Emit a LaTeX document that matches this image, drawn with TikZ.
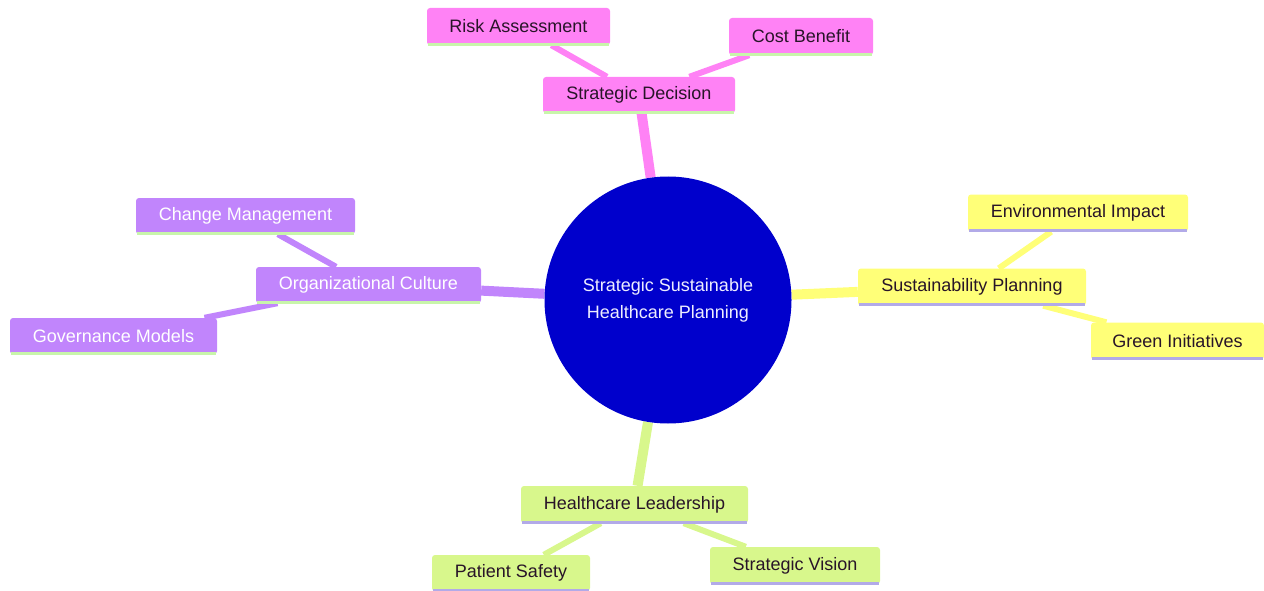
\documentclass[tikz,border=0pt]{standalone}
\usepackage{fontspec}
\setmainfont{Liberation Sans}
\usetikzlibrary{backgrounds}
\definecolor{pinkc}{RGB}{255,130,245}
\definecolor{yellowc}{RGB}{255,255,120}
\definecolor{purplec}{RGB}{193,133,252}
\definecolor{limec}{RGB}{216,247,140}
\definecolor{bluec}{RGB}{0,0,204}
\definecolor{stripegreen}{RGB}{200,245,170}
\definecolor{stripelav}{RGB}{178,170,232}
\definecolor{darktext}{RGB}{40,20,40}
\tikzset{
  box/.style={rounded corners=3pt, inner sep=0pt, font=\fontsize{18}{21}\selectfont, text=darktext},
  pinkbox/.style={box, fill=pinkc},
  yellowbox/.style={box, fill=yellowc},
  purplebox/.style={box, fill=purplec, text=white},
  limebox/.style={box, fill=limec},
  mainedge/.style={line width=10pt},
  subedge/.style={line width=6pt},
  stripe/.style={line width=3pt},
}
\begin{document}
\begin{tikzpicture}[x=1pt,y=-1pt]
\useasboundingbox (0,0) rectangle (1264,591);
% center
\node[circle, fill=bluec, minimum size=247pt, inner sep=0pt, text=white!93!blue,
      font=\fontsize{18}{27}\selectfont, align=center] (c) at (668,300)
      {Strategic Sustainable\\Healthcare Planning};
% pink branch
\node[pinkbox, minimum width=192pt, minimum height=36pt] (sd) at (639,95) {Strategic Decision};
\node[pinkbox, minimum width=183pt, minimum height=37pt] (ra) at (518.5,26.5) {Risk Assessment};
\node[pinkbox, minimum width=144pt, minimum height=37pt] (cb) at (801,36.5) {Cost Benefit};
% yellow branch
\node[yellowbox, minimum width=228pt, minimum height=37pt] (sp) at (972,287) {Sustainability Planning};
\node[yellowbox, minimum width=220pt, minimum height=37pt] (ei) at (1078,213) {Environmental Impact};
\node[yellowbox, minimum width=173pt, minimum height=37pt] (gi) at (1177.5,341) {Green Initiatives};
% purple branch
\node[purplebox, minimum width=225pt, minimum height=36pt] (oc) at (368.5,285) {Organizational Culture};
\node[purplebox, minimum width=219pt, minimum height=36pt] (cm) at (245.5,216) {Change Management};
\node[purplebox, minimum width=207pt, minimum height=36pt] (gm) at (113.5,336) {Governance Models};
% lime branch
\node[limebox, minimum width=227pt, minimum height=37pt] (hl) at (634.5,504.5) {Healthcare Leadership};
\node[limebox, minimum width=158pt, minimum height=36pt] (ps) at (511,573) {Patient Safety};
\node[limebox, minimum width=170pt, minimum height=37pt] (sv) at (795,565.5) {Strategic Vision};
% bottom stripes
\foreach \n/\col in {sd/stripegreen, ra/stripegreen, cb/stripegreen,
                     oc/stripegreen, cm/stripegreen, gm/stripegreen,
                     sp/stripelav, ei/stripelav, gi/stripelav,
                     hl/stripelav, ps/stripelav, sv/stripelav}
  \draw[stripe, \col] ([xshift=1pt,yshift=1pt]\n.south west) -- ([xshift=-1pt,yshift=1pt]\n.south east);
% edges
\begin{scope}[on background layer]
  \draw[mainedge, pinkc] (c) -- (sd);
  \draw[subedge, pinkc] (sd) -- (ra);
  \draw[subedge, pinkc] (sd) -- (cb);
  \draw[mainedge, yellowc] (c) -- (sp);
  \draw[subedge, yellowc] (sp) -- (ei);
  \draw[subedge, yellowc] (sp) -- (gi);
  \draw[mainedge, purplec] (c) -- (oc);
  \draw[subedge, purplec] (oc) -- (cm);
  \draw[subedge, purplec] (oc) -- (gm);
  \draw[mainedge, limec] (c) -- (hl);
  \draw[subedge, limec] (hl) -- (ps);
  \draw[subedge, limec] (hl) -- (sv);
\end{scope}
\end{tikzpicture}
\end{document}
